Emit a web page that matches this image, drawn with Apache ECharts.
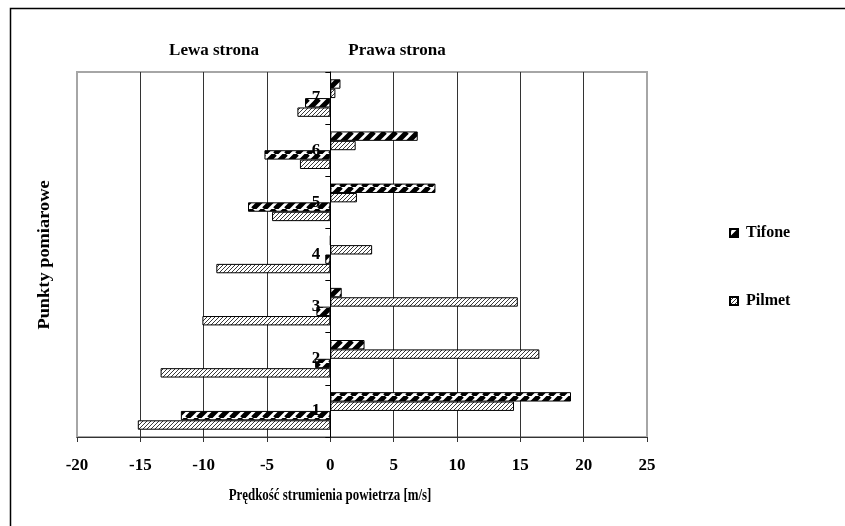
<!DOCTYPE html>
<html>
<head>
<meta charset="utf-8">
<script src="https://cdn.jsdelivr.net/npm/echarts@6/dist/echarts.min.js"></script>
<style>
  html, body { margin: 0; padding: 0; background: #fff; }
  #chart { width: 845px; height: 526px; }
</style>
</head>
<body>
<div id="chart"></div>
<script>
// Measuring points and air-stream speeds [m/s]; right side positive, left side negative
const categories = ['1', '2', '3', '4', '5', '6', '7'];
const tifoneRight = [19.0, 2.7, 0.9, 0, 8.3, 6.9, 0.8];
const pilmetRight = [14.5, 16.5, 14.8, 3.3, 2.1, 2.0, 0.4];
const tifoneLeft  = [-11.8, -1.2, -1.1, -0.4, -6.5, -5.2, -2.0];
const pilmetLeft  = [-15.2, -13.4, -10.1, -9.0, -4.6, -2.4, -2.6];
const xMin = -20, xMax = 25, xStep = 5;
const legendNames = ['Tifone', 'Pilmet'];

const FONT = '"Liberation Serif", "Times New Roman", serif';
const W = 845, H = 526;
const GRID = { left: 77, right: 198, top: 72, bottom: 89 };

// category axis sits on the zero line of the value axis
const plotWidth = W - GRID.left - GRID.right;
const zeroOffset = -plotWidth * (0 - xMin) / (xMax - xMin);

// diagonal "/" hatch tile
function hatch(size, lineW, color) {
  const c = document.createElement('canvas');
  c.width = size; c.height = size;
  const g = c.getContext('2d');
  g.fillStyle = '#fff';
  g.fillRect(0, 0, size, size);
  g.strokeStyle = color;
  g.lineWidth = lineW;
  g.beginPath();
  for (let k = -1; k <= 1; k++) {
    g.moveTo(k * size, size);
    g.lineTo(k * size + size, 0);
  }
  g.stroke();
  return c;
}
const tifoneFill = { image: hatch(11, 5, '#000'), repeat: 'repeat' };
const pilmetFill = { image: hatch(4, 1, '#3a3a3a'), repeat: 'repeat' };

function barSeries(name, data, fill) {
  return {
    name: name,
    type: 'bar',
    data: data,
    barGap: '0%',
    barCategoryGap: '28%',
    itemStyle: { color: fill, borderColor: '#000', borderWidth: 1 },
    emphasis: { disabled: true },
    z: 2
  };
}

const chart = echarts.init(document.getElementById('chart'), null, { renderer: 'canvas' });
chart.setOption({
  animation: false,
  backgroundColor: '#fff',
  grid: {
    left: GRID.left, right: GRID.right, top: GRID.top, bottom: GRID.bottom,
    show: true, borderColor: '#a6a6a6', borderWidth: 2, backgroundColor: 'transparent'
  },
  legend: {
    data: legendNames,
    orient: 'vertical',
    left: 724, top: 220,
    icon: 'rect',
    itemWidth: 8, itemHeight: 8,
    itemGap: 52,
    selectedMode: false,
    textStyle: { fontFamily: FONT, fontWeight: 'bold', fontSize: 16, color: '#000', padding: [0, 0, 0, 3] }
  },
  xAxis: {
    type: 'value',
    min: xMin, max: xMax, interval: xStep,
    axisLine: { show: true, lineStyle: { color: '#333', width: 1 } },
    axisTick: { show: true, length: 5, lineStyle: { color: '#333' } },
    axisLabel: { margin: 20, fontFamily: FONT, fontWeight: 'bold', fontSize: 17, color: '#000' },
    splitLine: { show: true, showMinLine: false, showMaxLine: false, lineStyle: { color: '#333', width: 1 } }
  },
  yAxis: {
    type: 'category',
    data: categories,
    position: 'left',
    offset: zeroOffset,
    z: 10,
    axisLine: { show: true, onZero: false, lineStyle: { color: '#000', width: 1 } },
    axisTick: { show: true, length: 5, lineStyle: { color: '#000' } },
    axisLabel: { margin: 10, fontFamily: FONT, fontWeight: 'bold', fontSize: 17, color: '#000' },
    splitLine: { show: false }
  },
  series: [
    barSeries('Tifone', tifoneRight, tifoneFill),
    barSeries('Pilmet', pilmetRight, pilmetFill),
    barSeries('Tifone', tifoneLeft, tifoneFill),
    barSeries('Pilmet', pilmetLeft, pilmetFill)
  ],
  graphic: [
    { type: 'rect', silent: true, shape: { x: 10.5, y: 8.5, width: 1000, height: 1000 },
      style: { fill: 'none', stroke: '#000', lineWidth: 1.5 } },
    { type: 'text', x: 214, y: 51, style: { text: 'Lewa strona', font: 'bold 17px ' + FONT, fill: '#000', align: 'center', verticalAlign: 'middle' } },
    { type: 'text', x: 397, y: 51, style: { text: 'Prawa strona', font: 'bold 17px ' + FONT, fill: '#000', align: 'center', verticalAlign: 'middle' } },
    { type: 'text', x: 330, y: 496, scaleX: 0.76, style: { text: 'Prędkość strumienia powietrza [m/s]', font: 'bold 17px ' + FONT, fill: '#000', align: 'center', verticalAlign: 'middle' } },
    { type: 'text', x: 45, y: 255, rotation: Math.PI / 2, scaleX: 1.08, style: { text: 'Punkty pomiarowe', font: 'bold 17px ' + FONT, fill: '#000', align: 'center', verticalAlign: 'middle' } }
  ]
});
</script>
</body>
</html>
